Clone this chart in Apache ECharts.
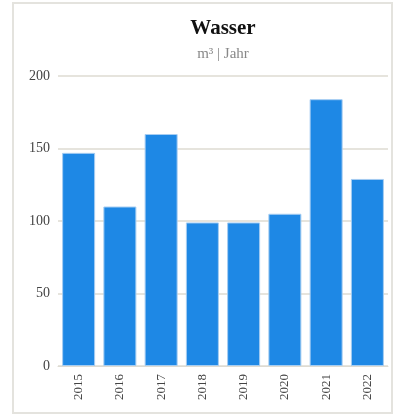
<!DOCTYPE html>
<html><head><meta charset="utf-8">
<script src="https://cdn.jsdelivr.net/npm/echarts@6/dist/echarts.min.js"></script>
<style>html,body{margin:0;padding:0;background:#fff}#c{width:398px;height:419px}</style>
</head><body><div id="c"></div>
<script>
const years = ['2015','2016','2017','2018','2019','2020','2021','2022'];
const wasser = [147, 110, 160, 99, 99, 105, 184, 129];
const yTicks = [0, 50, 100, 150, 200];

const chart = echarts.init(document.getElementById('c'), null, {renderer:'canvas'});
chart.setOption({
  animation:false,
  graphic:[{type:'rect', shape:{x:13,y:3,width:379,height:410}, style:{fill:'none', stroke:'#e4e3de', lineWidth:2}, z:-1}],
  title:{
    text:'Wasser', subtext:'m³ | Jahr', left:218, textAlign:'center', top:13, itemGap:8,
    textStyle:{fontFamily:'Liberation Serif', fontWeight:'bold', fontSize:21, color:'#111'},
    subtextStyle:{fontFamily:'Liberation Serif', fontSize:15, color:'#888'}
  },
  grid:{left:58, right:10, top:76, bottom:53, containLabel:false},
  xAxis:{type:'category', data:years,
    axisLine:{lineStyle:{color:'#dedbd2'}}, axisTick:{show:false},
    axisLabel:{rotate:90, margin:8, fontFamily:'Liberation Serif', fontSize:13, color:'#444'}},
  yAxis:{type:'value', min:yTicks[0], max:yTicks[yTicks.length-1], interval:50,
    axisLine:{show:false}, axisTick:{show:false},
    splitLine:{lineStyle:{color:'#dedbd2', width:1.5}},
    axisLabel:{margin:8, fontFamily:'Liberation Serif', fontSize:14, color:'#444'}},
  series:[{type:'bar', data:wasser, barCategoryGap:'20%',
    itemStyle:{color:'#1e88e5', borderColor:'#a6cdf2', borderWidth:1}}]
});
</script></body></html>
